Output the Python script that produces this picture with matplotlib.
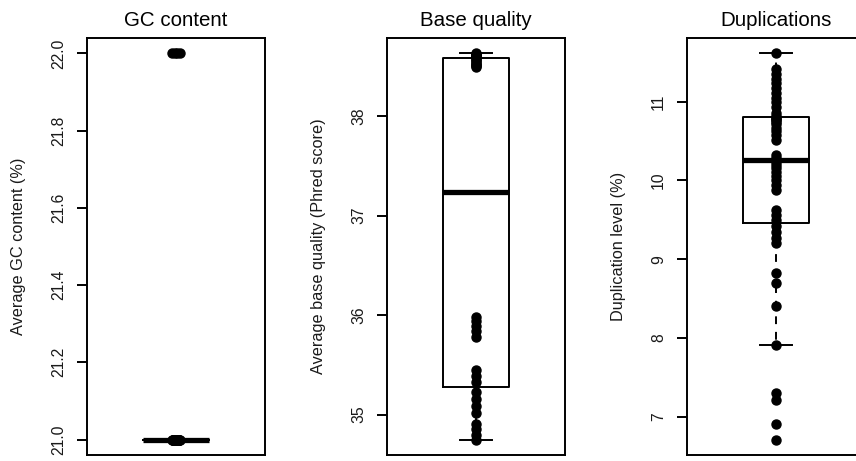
"""
Per-sample QC summary: GC content, base quality and duplication level
"""
import numpy as np
import matplotlib
matplotlib.use("Agg")
import matplotlib.pyplot as plt

plt.rcParams['font.family'] = ['Liberation Sans', 'DejaVu Sans']

# average GC content per sample (%)
gc_content = [21.0] * 30 + [22.0] * 4

# average base quality per sample (Phred score)
base_quality = [34.75, 34.80, 34.86, 34.91, 35.02, 35.09, 35.16, 35.23,
                35.33, 35.39, 35.45, 35.78, 35.84, 35.89, 35.94, 35.98,
                38.49, 38.50, 38.51, 38.52, 38.53, 38.55, 38.56, 38.57,
                38.59, 38.60, 38.60, 38.61, 38.61, 38.62, 38.62, 38.63]

# duplication level per sample (%)
duplication = [6.71, 6.91, 7.21, 7.30, 7.91, 8.41, 8.70, 8.82,
               9.20, 9.27, 9.34, 9.42, 9.50, 9.56, 9.62,
               9.88, 9.94, 10.00, 10.06, 10.11, 10.16, 10.20, 10.23, 10.26,
               10.28, 10.32, 10.51, 10.57, 10.62, 10.67, 10.71, 10.74,
               10.76, 10.78, 10.79, 10.81, 10.86, 10.93, 10.99, 11.05,
               11.11, 11.17, 11.23, 11.29, 11.35, 11.41, 11.61]

titles = ["GC content", "Base quality", "Duplications"]
ylabels = ["Average GC content (%)", "Average base quality (Phred score)",
           "Duplication level (%)"]
yticks = [[21.0, 21.2, 21.4, 21.6, 21.8, 22.0], [35, 36, 37, 38],
          [7, 8, 9, 10, 11]]
tick_fmt = ["{:.1f}", "{:g}", "{:g}"]


def fivenum(x):
    # Tukey hinges, same as R's fivenum()
    x = np.sort(np.asarray(x, dtype=float))
    n = len(x)
    n4 = np.floor((n + 3) / 2) / 2
    d = np.array([1, n4, (n + 1) / 2, n + 1 - n4, n]) - 1
    return 0.5 * (x[np.floor(d).astype(int)] + x[np.ceil(d).astype(int)])


def box_stats(x, coef=1.5):
    x = np.asarray(x, dtype=float)
    lo, q1, med, q3, hi = fivenum(x)
    iqr = q3 - q1
    inside = x[(x >= q1 - coef * iqr) & (x <= q3 + coef * iqr)]
    return dict(med=med, q1=q1, q3=q3, whislo=inside.min(),
                whishi=inside.max(), fliers=[])


fig = plt.figure(figsize=(8.56, 4.61), dpi=100)
W, H = 856, 461
lefts = [87, 387, 687]
spreads = [0.022, 0, 0]

for i, data in enumerate([gc_content, base_quality, duplication]):
    ax = fig.add_axes([lefts[i] / W, 6 / H, 178 / W, 417 / H])
    ax.bxp([box_stats(data)], positions=[1], widths=0.4, capwidths=0.2,
           showfliers=False, patch_artist=False,
           boxprops=dict(color='black', linewidth=1.4),
           medianprops=dict(color='black', linewidth=3.8, solid_capstyle='butt'),
           whiskerprops=dict(color='black', linewidth=1.4, linestyle=(0, (4, 4))),
           capprops=dict(color='black', linewidth=1.4))

    # every sample as a dot on top of the box
    vals = np.asarray(data, dtype=float)
    xs = np.ones_like(vals)
    for v in np.unique(vals):
        idx = np.where(vals == v)[0]
        xs[idx] += np.linspace(-spreads[i], spreads[i], len(idx))
    ax.plot(xs, vals, 'o', color='black', markersize=6.5, zorder=5)

    lo, hi = vals.min(), vals.max()
    pad = 0.04 * (hi - lo)
    ax.set_ylim(lo - pad, hi + pad)
    ax.set_xlim(0.46, 1.54)
    ax.set_xticks([])
    ax.set_yticks(yticks[i])
    ax.set_yticklabels([tick_fmt[i].format(t) for t in yticks[i]],
                       rotation=90, va='center', fontsize=11.3, color='#1a1a1a')
    ax.tick_params(axis='y', direction='out', length=7, width=1.4, pad=8)
    for sp in ax.spines.values():
        sp.set_linewidth(1.4)

    ax.set_title(titles[i], fontsize=14.8, pad=8.5)
    ax.set_ylabel(ylabels[i], fontsize=11.7, color='#1a1a1a')
    ax.yaxis.set_label_coords(-0.345, 0.5)

fig.savefig("out.png", dpi=100)
